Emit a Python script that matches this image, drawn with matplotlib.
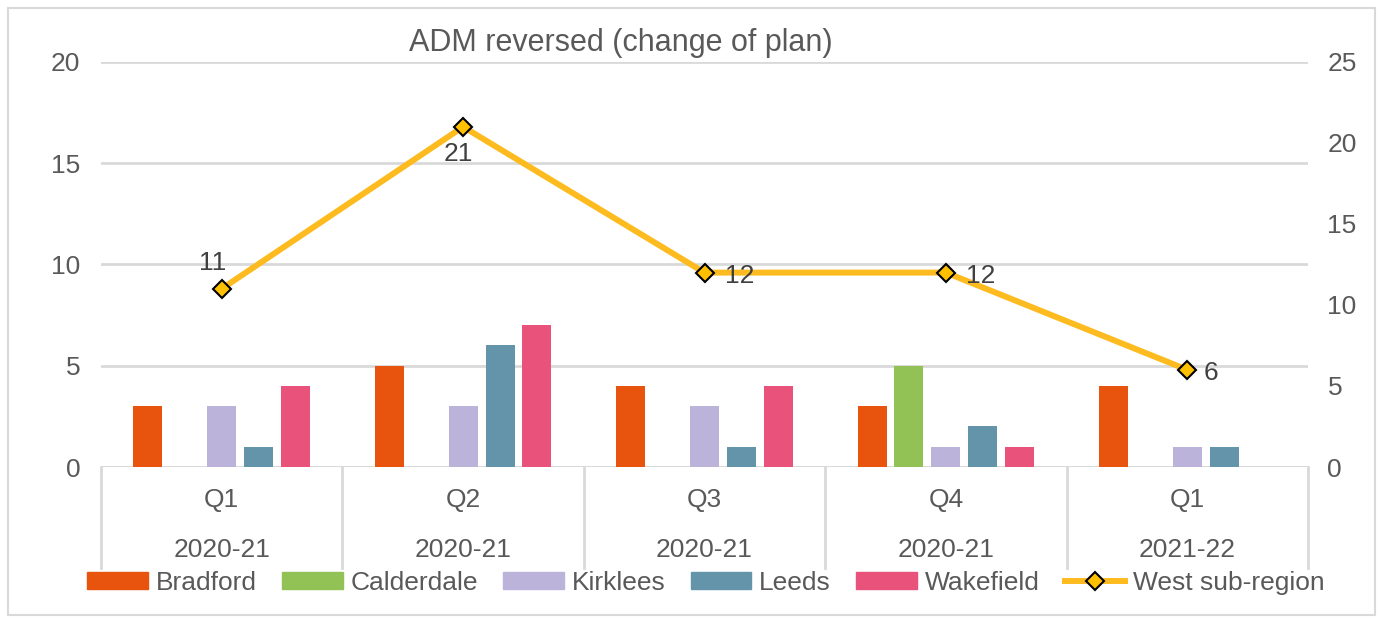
import matplotlib.pyplot as plt
import matplotlib.patches as mpatches
from matplotlib.lines import Line2D
from matplotlib.transforms import blended_transform_factory
import numpy as np

plt.rcParams['font.family'] = ['Liberation Sans', 'DejaVu Sans']

quarters = ['Q1', 'Q2', 'Q3', 'Q4', 'Q1']
years = ['2020-21', '2020-21', '2020-21', '2020-21', '2021-22']

series = ['Bradford', 'Calderdale', 'Kirklees', 'Leeds', 'Wakefield']
bradford = [3, 5, 4, 3, 4]
calderdale = [0, 0, 0, 5, 0]
kirklees = [3, 3, 3, 1, 1]
leeds = [1, 6, 1, 2, 1]
wakefield = [4, 7, 4, 1, 0]
west = [11, 21, 12, 12, 6]

colors = ['#E8530E', '#92C155', '#BBB3DA', '#6494AA', '#E9527A']
line_color = '#FDBB1F'
txt = '#595959'
grid = '#D9D9D9'
fs = 19

fig = plt.figure(figsize=(13.83, 6.23), dpi=100)
ax = fig.add_axes([0.0730, 0.2504, 0.8728, 0.6501])
ax2 = ax.twinx()

x = np.arange(len(quarters))
step = 0.153
width = 0.12
for i, (name, vals) in enumerate(zip(series, [bradford, calderdale, kirklees, leeds, wakefield])):
    ax.bar(x + (i - 2) * step, vals, width, color=colors[i], zorder=3, label=name)

ax.set_xlim(-0.5, 4.5)
ax.set_ylim(0, 20)
ax.set_yticks([0, 5, 10, 15, 20])
ax.grid(axis='y', color=grid, linewidth=2, zorder=0)
ax.set_xticks([])
for s in ax.spines.values():
    s.set_visible(False)
ax.axhline(0, color=grid, linewidth=2, zorder=2)
ax.tick_params(axis='y', length=0, pad=15, labelsize=fs, labelcolor=txt)

ax2.plot(x, west, color=line_color, linewidth=4.3, marker='D', markersize=9,
         markerfacecolor='#FFC000', markeredgecolor='#000000', markeredgewidth=1.5,
         zorder=5)
ax2.set_ylim(0, 25)
ax2.set_yticks([0, 5, 10, 15, 20, 25])
for s in ax2.spines.values():
    s.set_visible(False)
ax2.tick_params(axis='y', length=0, pad=14, labelsize=fs, labelcolor=txt)

# data labels
offsets = [(-9, 26, 'center'), (-5, -27, 'center'), (20, -3, 'left'), (20, -3, 'left'), (16, -3, 'left')]
for xi, v, (dx, dy, ha) in zip(x, west, offsets):
    ax2.annotate(str(v), (xi, v), xytext=(dx, dy), textcoords='offset pixels',
                 ha=ha, va='center', fontsize=fs, color='#404040', zorder=6)

# category axis
tr = blended_transform_factory(ax.transData, ax.transAxes)
for b in np.arange(-0.5, 5.0, 1.0):
    ax.plot([b, b], [0, -0.249], transform=tr, color=grid, linewidth=2, clip_on=False)
for xi, q, yr in zip(x, quarters, years):
    ax.text(xi, -0.081, q, transform=tr, ha='center', va='center', fontsize=fs, color=txt)
    ax.text(xi, -0.205, yr, transform=tr, ha='center', va='center', fontsize=fs, color=txt)

fig.text(0.449, 0.931, 'ADM reversed (change of plan)', ha='center', va='center',
         fontsize=22, color=txt)

handles = [mpatches.Patch(color=c, label=n) for c, n in zip(colors, series)]
handles.append(Line2D([0], [0], color=line_color, linewidth=4.3, marker='D', markersize=9,
                      markerfacecolor='#FFC000', markeredgecolor='#000000',
                      markeredgewidth=1.5, label='West sub-region'))
fig.legend(handles=handles, loc='center', bbox_to_anchor=(0.5105, 0.064), ncol=6,
           frameon=False, fontsize=fs, labelcolor=txt, handlelength=2.3,
           handleheight=0.6, handletextpad=0.3, columnspacing=0.95)

fig.patches.append(mpatches.Rectangle((0.006, 0.013), 0.988, 0.974, transform=fig.transFigure,
                                      fill=False, edgecolor='#D9D9D9', linewidth=1.5))

fig.savefig('out.png', dpi=100)
